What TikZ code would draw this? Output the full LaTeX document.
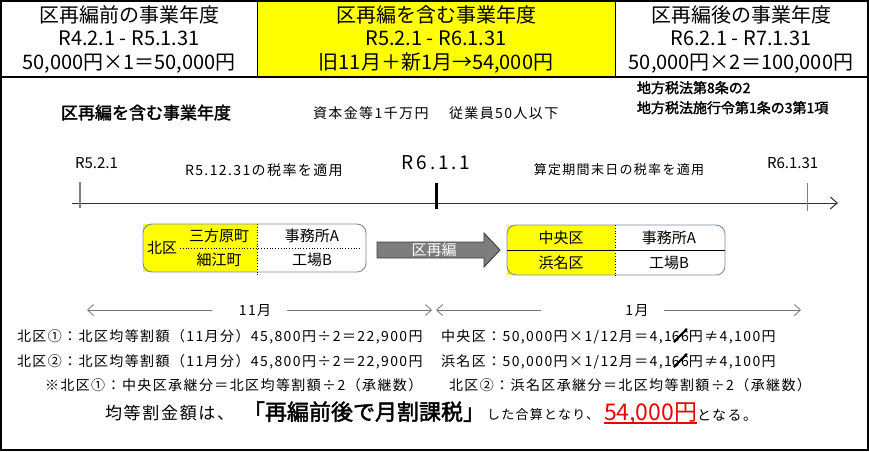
\documentclass[tikz,border=0pt]{standalone}
\usepackage{fontspec}
\setmainfont{Noto Sans CJK JP}
\newfontfamily\jp[LetterSpace=10]{Noto Sans CJK JP}
\newfontfamily\jpn{Noto Sans CJK JP}
\newfontfamily\jpw[LetterSpace=15]{Noto Sans CJK JP}
\newfontfamily\jpb[FakeBold=2]{Noto Sans CJK JP}
\usetikzlibrary{arrows.meta}
\definecolor{yel}{RGB}{255,255,0}
\definecolor{boxedge}{RGB}{120,140,165}
\definecolor{arrfill}{RGB}{125,125,125}
\definecolor{arredge}{RGB}{60,60,60}
\definecolor{redtxt}{RGB}{235,0,0}
\definecolor{dimc}{RGB}{110,118,128}
\newcommand\sz[1]{\fontsize{#1}{#1}\selectfont}
\begin{document}
\begin{tikzpicture}[x=1pt,y=-1pt,
  t/.style={inner sep=0pt,outer sep=0pt},
  bw/.style={t,anchor=base west},
  bc/.style={t,anchor=base},
  dimline/.style={dimc,line width=0.8pt}]
\useasboundingbox (0,0) rectangle (869,451);
% header table
\fill[yel] (257,1) rectangle (615,77);
\draw[line width=1.2pt] (1,1) rectangle (868,450);
\draw[line width=1.2pt] (1,77) -- (868,77);
\draw[line width=1pt] (257,1) -- (257,77);
\draw[line width=1pt] (615,1) -- (615,77);
\node[bc] (h11) at (129,22) {\jpn\sz{20}区再編前の事業年度};
\node[bc] (h12) at (129,45) {\jpn\sz{20}R4.2.1 - R5.1.31};
\node[bc] (h13) at (129,69) {\jpn\sz{20}50,000円×1＝50,000円};
\node[bc] (h21) at (436,22) {\jpn\sz{20}区再編を含む事業年度};
\node[bc] (h22) at (436,45) {\jpn\sz{20}R5.2.1 - R6.1.31};
\node[bc] (h23) at (436,69) {\jpn\sz{20}旧11月＋新1月→54,000円};
\node[bc] (h31) at (741,22) {\jpn\sz{20}区再編後の事業年度};
\node[bc] (h32) at (741,45) {\jpn\sz{20}R6.2.1 - R7.1.31};
\node[bc] (h33) at (741,69) {\jpn\sz{20}50,000円×2＝100,000円};
% titles
\node[bw] (title) at (61,119) {\jpb\sz{17}区再編を含む事業年度};
\node[bw] (cap) at (313,118) {\jp\sz{14}資本金等1千万円};
\node[bw] (emp) at (449,118) {\jp\sz{14}従業員50人以下};
\node[bw] (law1) at (637,93) {\jpb\sz{14}地方税法第8条の2};
\node[bw] (law2) at (637,113) {\jpb\sz{14}地方税法施行令第1条の3第1項};
% timeline
\coordinate (tl0) at (72,203);
\coordinate (tl1) at (838,203);
\draw[line width=1pt,black!80,-{Straight Barb[length=7pt,width=12pt]}] (tl0) -- (tl1);
\draw[gray,line width=1.3pt] (80,182) -- (80,208);
\draw[black,line width=3pt] (436,183) -- (436,209);
\draw[gray,line width=0.8pt] (807,183) -- (807,211);
\node[bw] (d1) at (75,168) {\jpn\sz{15}R5.2.1};
\node[bw] (rate1) at (185,175) {\jp\sz{14}R5.12.31の税率を適用};
\node[bc] (d2) at (436,169) {\jpw\sz{19}R6.1.1};
\node[bc] (rate2) at (619,174) {\jp\sz{13}算定期間末日の税率を適用};
\node[bw] (d3) at (767,168) {\jpn\sz{15}R6.1.31};
% left box
\fill[yel] (143,224) rectangle (257,272);
\draw[boxedge,rounded corners=9pt,line width=0.9pt] (143,224) rectangle (366,272);
\draw[dotted,line width=0.8pt] (180,248) -- (362,248);
\draw[dotted,line width=0.8pt] (257,224) -- (257,277);
\node[bc] (kita) at (162,253.5) {\jpn\sz{15}北区};
\node[bc] (mika) at (219,241.5) {\jpn\sz{15}三方原町};
\node[bc] (hoso) at (219,265.5) {\jpn\sz{15}細江町};
\node[bc] (jim1) at (312,241.5) {\jpn\sz{15}事務所A};
\node[bc] (koj1) at (312,265.5) {\jpn\sz{15}工場B};
% big arrow
\draw[fill=arrfill,draw=arredge,line width=0.9pt] (377,242) -- (484,242) -- (484,233) -- (500,250) -- (484,267) -- (484,258) -- (377,258) -- cycle;
\node[bc,white] (kusai) at (434,255.5) {\jpn\sz{15}区再編};
% right box
\fill[yel] (507,225) rectangle (615,275);
\draw[boxedge,rounded corners=9pt,line width=0.9pt] (507,225) rectangle (725,275);
\draw[line width=0.9pt] (507,250) -- (725,250);
\draw[dotted,line width=0.8pt] (615,225) -- (615,277);
\node[bc] (chuo) at (561,243) {\jpn\sz{15}中央区};
\node[bc] (hama) at (561,268) {\jpn\sz{15}浜名区};
\node[bc] (jim2) at (669,243) {\jpn\sz{15}事務所A};
\node[bc] (koj2) at (669,268) {\jpn\sz{15}工場B};
% month dimension arrows
\node[bc] (m11) at (255,315) {\jp\sz{14}11月};
\coordinate (a11l) at (87,310); \coordinate (a11m1) at (212,310);
\coordinate (a11m2) at (287,310); \coordinate (a11r) at (432,310);
\draw[dimline,{Straight Barb[length=6pt,width=11pt]}-] (a11l) -- (a11m1);
\draw[dimline,-{Straight Barb[length=6pt,width=11pt]}] (a11m2) -- (a11r);
\node[bc] (m1) at (637,315) {\jp\sz{14}1月};
\coordinate (a1l) at (436,310); \coordinate (a1m1) at (541,310);
\coordinate (a1m2) at (664,310); \coordinate (a1r) at (801,310);
\draw[dimline,{Straight Barb[length=6pt,width=11pt]}-] (a1l) -- (a1m1);
\draw[dimline,-{Straight Barb[length=6pt,width=11pt]}] (a1m2) -- (a1r);
% formula lines
\node[bw] (f1) at (17,341) {\jp\sz{14}北区①：北区均等割額（11月分）45,800円÷2＝22,900円};
\node[bw] (f2) at (17,366) {\jp\sz{14}北区②：北区均等割額（11月分）45,800円÷2＝22,900円};
\node[bw] (g1a) at (441,341) {\jp\sz{14}中央区：50,000円×1/12月＝4,1};
\node[bw] (g1b) at (g1a.base east) {\jp\sz{14}66};
\node[bw] (g1c) at (g1b.base east) {\jp\sz{14}円≠4,100円};
\node[bw] (g2a) at (441,366) {\jp\sz{14}浜名区：50,000円×1/12月＝4,1};
\node[bw] (g2b) at (g2a.base east) {\jp\sz{14}66};
\node[bw] (g2c) at (g2b.base east) {\jp\sz{14}円≠4,100円};
\draw[line width=2.2pt] ([xshift=2pt,yshift=-1pt]g1b.base west) -- ([xshift=-2pt,yshift=2pt]g1b.north east);
\draw[line width=2.2pt] ([xshift=2pt,yshift=-1pt]g2b.base west) -- ([xshift=-2pt,yshift=2pt]g2b.north east);
\node[bw] (n1) at (45,390) {\jp\sz{14}※北区①：中央区承継分＝北区均等割額÷2（承継数）};
\node[bw] (n2) at (449,390) {\jp\sz{14}北区②：浜名区承継分＝北区均等割額÷2（承継数）};
% conclusion
\node[bw] (c1) at (105,419) {\jp\sz{17}均等割金額は、};
\node[bw] (c2) at (243,420) {\jpb\sz{22}「再編前後で月割課税」};
\node[bw] (c3) at (487,419) {\jp\sz{13}した合算となり、};
\node[bw,redtxt] (c4) at (604,420) {\jpn\sz{23}54,000円};
\node[bw] (c5) at (c4.base east) {\jp\sz{14}となる。};
\draw[redtxt,line width=1.3pt] ([yshift=-3pt]c4.base west) -- ([yshift=-3pt]c4.base east);
\end{tikzpicture}
\end{document}
